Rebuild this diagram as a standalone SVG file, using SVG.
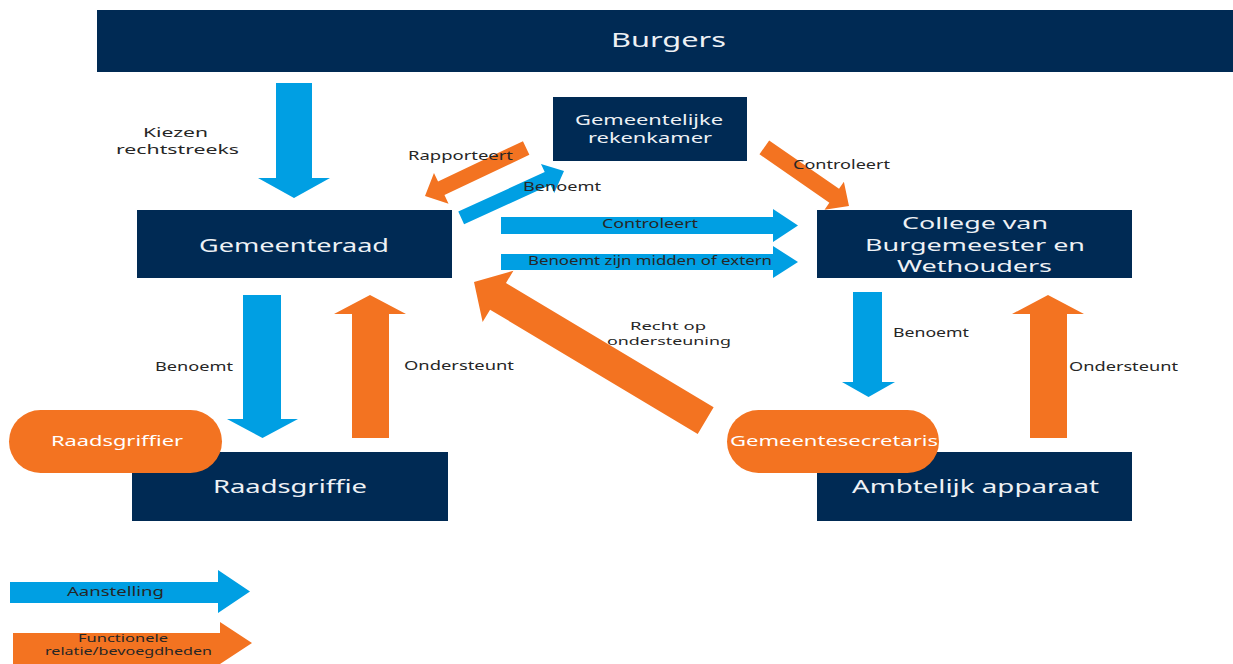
<svg xmlns="http://www.w3.org/2000/svg" width="1233" height="664" viewBox="0 0 1233 664">
<defs>
<style>
text{font-family:"Noto Sans","Open Sans","DejaVu Sans",sans-serif;text-anchor:middle}
.box{fill:#002a54}
.pill{fill:#f37321}
.bt{fill:#eef1f5;font-size:18px}
.pt{fill:#ffffff;font-size:15px}
.lb{fill:#262626;font-size:12px}
.blue{fill:#009fe3}
.orange{fill:#f37321}
</style>
</defs>
<rect width="1233" height="664" fill="#ffffff"/>

<g id="connectors">
  <polygon class="blue" points="276,83 312,83 312,178 330,178 294,198 258,178 276,178"/>
  <polygon class="blue" points="243,295 281,295 281,419 298,419 262.5,438 227,419 243,419"/>
  <polygon class="orange" points="352,438 389,438 389,314 406,314 370,295 334,314 352,314"/>
  <polygon class="blue" points="853,292 882,292 882,382 895,382 868.5,397 842,382 853,382"/>
  <polygon class="orange" points="1030,438 1067,438 1067,314 1084,314 1048,295 1012,314 1030,314"/>
  <polygon class="blue" points="501,217 773,217 773,209 798,225.5 773,242 773,234 501,234"/>
  <polygon class="blue" points="501,254 773,254 773,246 798,262 773,278 773,270 501,270"/>
  <polygon class="orange" points="0,0 -18,-17 -18,-7.5 -112,-7.5 -112,7.5 -18,7.5 -18,17" transform="translate(425,196) rotate(154.6)"/>
  <polygon class="blue" points="0,0 -18,-16 -18,-7 -113,-7 -113,7 -18,7 -18,16" transform="translate(564,171) rotate(-24.5)"/>
  <polygon class="orange" points="0,0 -18,-17 -18,-8.5 -103,-8.5 -103,8.5 -18,8.5 -18,17" transform="translate(849,206) rotate(34.7)"/>
  <polygon class="orange" points="0,0 -28,-30 -28,-15.5 -270,-15.5 -270,15.5 -28,15.5 -28,30" transform="translate(474,282) rotate(210.9)"/>
  <text class="lb" x="175.5" y="137" style="font-size:13px" textLength="65" lengthAdjust="spacingAndGlyphs">Kiezen</text>
  <text class="lb" x="177.5" y="154" style="font-size:13px" textLength="123" lengthAdjust="spacingAndGlyphs">rechtstreeks</text>
  <text class="lb" x="460.5" y="160" textLength="105" lengthAdjust="spacingAndGlyphs">Rapporteert</text>
  <text class="lb" x="562" y="191" textLength="78" lengthAdjust="spacingAndGlyphs">Benoemt</text>
  <text class="lb" x="841.5" y="169" textLength="97" lengthAdjust="spacingAndGlyphs">Controleert</text>
  <text class="lb" x="650" y="228" textLength="96" lengthAdjust="spacingAndGlyphs">Controleert</text>
  <text class="lb" x="650" y="265" textLength="244" lengthAdjust="spacingAndGlyphs">Benoemt zijn midden of extern</text>
  <text class="lb" x="194" y="371" textLength="78" lengthAdjust="spacingAndGlyphs">Benoemt</text>
  <text class="lb" x="459" y="370" textLength="110" lengthAdjust="spacingAndGlyphs">Ondersteunt</text>
  <text class="lb" x="668" y="330" style="font-size:11.5px" textLength="76" lengthAdjust="spacingAndGlyphs">Recht op</text>
  <text class="lb" x="669" y="345" style="font-size:11.5px" textLength="124" lengthAdjust="spacingAndGlyphs">ondersteuning</text>
  <text class="lb" x="931" y="337" textLength="76" lengthAdjust="spacingAndGlyphs">Benoemt</text>
  <text class="lb" x="1123.5" y="371" textLength="109" lengthAdjust="spacingAndGlyphs">Ondersteunt</text>
</g>

<g id="burgers">
  <rect class="box" x="97" y="10" width="1136" height="62"/>
  <text class="bt" x="668.5" y="47" style="font-size:20px" textLength="115" lengthAdjust="spacingAndGlyphs">Burgers</text>
</g>
<g id="rekenkamer">
  <rect class="box" x="553" y="97" width="194" height="64"/>
  <text class="bt" x="649" y="125" style="font-size:14px" textLength="148" lengthAdjust="spacingAndGlyphs">Gemeentelijke</text>
  <text class="bt" x="650" y="143" style="font-size:14px" textLength="124" lengthAdjust="spacingAndGlyphs">rekenkamer</text>
</g>
<g id="gemeenteraad">
  <rect class="box" x="137" y="210" width="315" height="68"/>
  <text class="bt" x="294" y="252" textLength="190" lengthAdjust="spacingAndGlyphs">Gemeenteraad</text>
</g>
<g id="college">
  <rect class="box" x="817" y="210" width="315" height="68"/>
  <text class="bt" x="975" y="229" style="font-size:17px" textLength="146" lengthAdjust="spacingAndGlyphs">College van</text>
  <text class="bt" x="975" y="251" style="font-size:17px" textLength="220" lengthAdjust="spacingAndGlyphs">Burgemeester en</text>
  <text class="bt" x="974.5" y="272" style="font-size:17px" textLength="155" lengthAdjust="spacingAndGlyphs">Wethouders</text>
</g>
<g id="raadsgriffie">
  <rect class="box" x="132" y="452" width="316" height="69"/>
  <text class="bt" x="290" y="493" textLength="154" lengthAdjust="spacingAndGlyphs">Raadsgriffie</text>
</g>
<g id="ambtelijk">
  <rect class="box" x="817" y="452" width="315" height="69"/>
  <text class="bt" x="975.5" y="493" textLength="247" lengthAdjust="spacingAndGlyphs">Ambtelijk apparaat</text>
</g>
<g id="raadsgriffier">
  <rect class="pill" x="9" y="410" width="213" height="63" rx="31.5"/>
  <text class="pt" x="117" y="446" textLength="132" lengthAdjust="spacingAndGlyphs">Raadsgriffier</text>
</g>
<g id="gemeentesecretaris">
  <rect class="pill" x="727" y="410" width="212" height="63" rx="31.5"/>
  <text class="pt" x="834" y="446" textLength="208" lengthAdjust="spacingAndGlyphs">Gemeentesecretaris</text>
</g>

<g id="legend">
  <polygon class="blue" points="10,582 218,582 218,570 250,591.5 218,613 218,603 10,603"/>
  <text class="lb" x="115.5" y="596" style="font-size:12.5px" textLength="97" lengthAdjust="spacingAndGlyphs">Aanstelling</text>
  <polygon class="orange" points="13,633 220,633 220,622 252,643 220,664 13,664"/>
  <text class="lb" x="123" y="642" style="font-size:11.5px" textLength="90" lengthAdjust="spacingAndGlyphs">Functionele</text>
  <text class="lb" x="128.5" y="655" style="font-size:11.5px" textLength="167" lengthAdjust="spacingAndGlyphs">relatie/bevoegdheden</text>
</g>
</svg>
